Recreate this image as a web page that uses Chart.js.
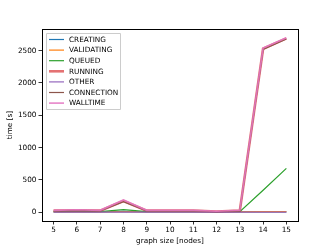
<!DOCTYPE html>
<html>
<head>
<meta charset="utf-8">
<script src="https://cdn.jsdelivr.net/npm/chart.js@4"></script>
<style>
    html, body { margin: 0; padding: 0; background: #fff; }
    #wrap { width: 332px; height: 249px; }
</style>
</head>
<body>
<div id="wrap"><canvas id="timeChart" width="332" height="249"></canvas></div>
<script>
const nodes = [5, 6, 7, 8, 9, 10, 11, 12, 13, 14, 15];
const creating = [5, 5, 5, 15, 5, 5, 5, 3, 5, 5, 5];
const validating = [5, 5, 5, 8, 5, 5, 5, 3, 5, 10, 10];
const queued = [10, 12, 10, 40, 10, 10, 10, 5, 10, 340, 680];
const running = [25, 32, 25, 175, 25, 25, 25, 10, 25, 2530, 2690];
const other = [2, 2, 2, 3, 2, 2, 2, 2, 2, 3, 3];
const connection = [22, 28, 22, 165, 22, 22, 22, 8, 22, 2520, 2680];
const walltime = [30, 38, 30, 190, 30, 30, 30, 15, 30, 2540, 2700];
const xTicks = [5, 6, 7, 8, 9, 10, 11, 12, 13, 14, 15];
const yTicks = [0, 500, 1000, 1500, 2000, 2500];

const series = [
    { label: "CREATING", data: creating, color: "#1f77b4", width: 1.2 },
    { label: "VALIDATING", data: validating, color: "#ff7f0e", width: 1.2 },
    { label: "QUEUED", data: queued, color: "#2ca02c", width: 1.2 },
    { label: "RUNNING", data: running, color: "rgba(214,39,40,0.65)", width: 2.6 },
    { label: "OTHER", data: other, color: "#9467bd", width: 1.2 },
    { label: "CONNECTION", data: connection, color: "#8c564b", width: 1.2 },
    { label: "WALLTIME", data: walltime, color: "rgba(227,119,194,0.9)", width: 1.6 }
];

const fontSpec = { family: "DejaVu Sans", size: 7.3 };

const datasets = [];
for (let i = 0; i < series.length; i++) {
    const s = series[i];
    const points = [];
    for (let j = 0; j < nodes.length; j++) {
        points.push({ x: nodes[j], y: s.data[j] });
    }
    datasets.push({
        label: s.label,
        data: points,
        borderColor: s.color,
        backgroundColor: s.color,
        borderWidth: s.width,
        pointRadius: 0,
        tension: 0,
        // later series on top, like matplotlib
        order: series.length - i
    });
}

// frame + legend box like matplotlib
const framePlugin = {
    id: "frame",
    afterDraw: (chart) => {
        const ctx = chart.ctx;
        const a = chart.chartArea;
        ctx.save();
        ctx.strokeStyle = "#000";
        ctx.lineWidth = 1;
        ctx.strokeRect(Math.round(a.left) + 0.5, Math.round(a.top) + 0.5,
            Math.round(a.right - a.left), Math.round(a.bottom - a.top));

        const boxX = a.left + 4;
        const boxY = a.top + 4;
        const boxW = 74;
        const boxH = 76;
        ctx.fillStyle = "rgba(255,255,255,0.8)";
        ctx.strokeStyle = "#cccccc";
        ctx.lineWidth = 1;
        ctx.beginPath();
        ctx.rect(boxX + 0.5, boxY + 0.5, boxW, boxH);
        ctx.fill();
        ctx.stroke();

        ctx.font = "7.3px 'DejaVu Sans'";
        ctx.textBaseline = "middle";
        ctx.textAlign = "left";
        for (let i = 0; i < series.length; i++) {
            const y = boxY + 6.5 + i * 10.6;
            ctx.strokeStyle = series[i].color;
            ctx.lineWidth = series[i].width;
            ctx.beginPath();
            ctx.moveTo(boxX + 3, y);
            ctx.lineTo(boxX + 18, y);
            ctx.stroke();
            ctx.fillStyle = "#000";
            ctx.fillText(series[i].label, boxX + 23, y + 0.5);
        }
        ctx.restore();
    }
};

new Chart(document.querySelector("#timeChart"), {
    type: "line",
    data: { datasets: datasets },
    options: {
        responsive: false,
        animation: false,
        layout: { padding: { top: 29, right: 34, left: 0, bottom: 0 } },
        plugins: {
            legend: { display: false },
            tooltip: { enabled: false }
        },
        scales: {
            x: {
                type: "linear",
                min: 4.5,
                max: 15.5,
                afterBuildTicks: (scale) => {
                    scale.ticks = xTicks.map((v) => ({ value: v }));
                },
                afterFit: (scale) => { scale.height = 28; },
                grid: { drawOnChartArea: false, color: "#000", tickLength: 3.5, tickWidth: 0.8 },
                border: { display: false },
                ticks: { color: "#000", font: fontSpec, padding: 1, maxRotation: 0, callback: (v) => String(v) },
                title: { display: true, text: "graph size [nodes]", color: "#000", font: fontSpec, padding: { top: 0 } }
            },
            y: {
                type: "linear",
                min: -135,
                max: 2835,
                afterBuildTicks: (scale) => {
                    scale.ticks = yTicks.map((v) => ({ value: v }));
                },
                afterFit: (scale) => { scale.width = 42; },
                grid: { drawOnChartArea: false, color: "#000", tickLength: 3.5, tickWidth: 0.8 },
                border: { display: false },
                ticks: { color: "#000", font: fontSpec, padding: 2, callback: (v) => String(v) },
                title: { display: true, text: "time [s]", color: "#000", font: fontSpec, padding: { top: 6, bottom: 0 } }
            }
        }
    },
    plugins: [framePlugin]
});
</script>
</body>
</html>
